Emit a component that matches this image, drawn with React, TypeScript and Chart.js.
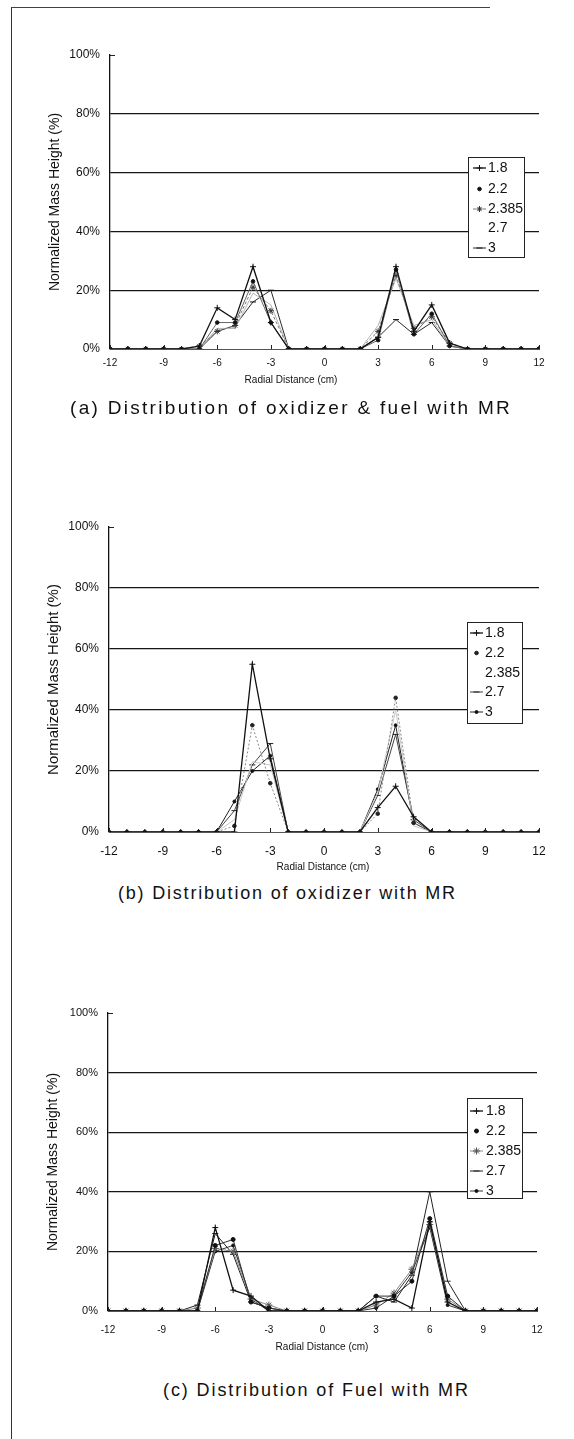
import React, { useEffect, useRef } from 'react';
import { Chart, registerables } from 'chart.js';
import { drawPoint } from 'chart.js/helpers';

Chart.register(...registerables);

const FONT = "'Liberation Sans', Arial, Helvetica, sans-serif";
Chart.defaults.font.family = FONT;
Chart.defaults.color = '#111';

// radial measuring stations (cm)
const RADIAL_CM = [-12, -11, -10, -9, -8, -7, -6, -5, -4, -3, -2, -1, 0, 1, 2, 3, 4, 5, 6, 7, 8, 9, 10, 11, 12];
const MR_LABELS = ['1.8', '2.2', '2.385', '2.7', '3'];
const X_TICKS = [-12, -9, -6, -3, 0, 3, 6, 9, 12];
const Y_TICKS = [0, 20, 40, 60, 80, 100];
const X_TITLE = 'Radial Distance (cm)';
const Y_TITLE = 'Normalized Mass Height (%)';

// (a) oxidizer & fuel, normalized mass height (%)
const MIX_MR18 = [0, 0, 0, 0, 0, 1, 14, 10, 28, 9, 0, 0, 0, 0, 0, 4, 28, 6, 15, 2, 0, 0, 0, 0, 0];
const MIX_MR22 = [0, 0, 0, 0, 0, 0, 9, 9, 23, 9, 0, 0, 0, 0, 0, 3, 27, 5, 12, 1, 0, 0, 0, 0, 0];
const MIX_MR2385 = [0, 0, 0, 0, 0, 1, 6, 8, 21, 13, 0, 0, 0, 0, 0, 6, 25, 7, 11, 2, 0, 0, 0, 0, 0];
const MIX_MR27 = [0, 0, 0, 0, 0, 0, 7, 7, 19, 15, 0, 0, 0, 0, 0, 8, 24, 8, 10, 1, 0, 0, 0, 0, 0];
const MIX_MR3 = [0, 0, 0, 0, 0, 0, 6, 8, 16, 20, 0, 0, 0, 0, 0, 4, 10, 5, 9, 1, 0, 0, 0, 0, 0];

// (b) oxidizer only
const OX_MR18 = [0, 0, 0, 0, 0, 0, 0, 0, 55, 24, 0, 0, 0, 0, 0, 8, 15, 5, 0, 0, 0, 0, 0, 0, 0];
const OX_MR22 = [0, 0, 0, 0, 0, 0, 0, 2, 35, 16, 0, 0, 0, 0, 0, 6, 44, 3, 0, 0, 0, 0, 0, 0, 0];
const OX_MR2385 = [0, 0, 0, 0, 0, 0, 0, 4, 23, 22, 0, 0, 0, 0, 0, 13, 40, 2, 0, 0, 0, 0, 0, 0, 0];
const OX_MR27 = [0, 0, 0, 0, 0, 0, 0, 7, 22, 29, 0, 0, 0, 0, 0, 12, 32, 4, 0, 0, 0, 0, 0, 0, 0];
const OX_MR3 = [0, 0, 0, 0, 0, 0, 0, 10, 20, 25, 0, 0, 0, 0, 0, 14, 35, 3, 0, 0, 0, 0, 0, 0, 0];

// (c) fuel only
const FUEL_MR18 = [0, 0, 0, 0, 0, 0, 28, 7, 5, 0, 0, 0, 0, 0, 0, 3, 4, 1, 30, 3, 0, 0, 0, 0, 0];
const FUEL_MR22 = [0, 0, 0, 0, 0, 0, 22, 24, 3, 1, 0, 0, 0, 0, 0, 5, 5, 10, 31, 5, 0, 0, 0, 0, 0];
const FUEL_MR2385 = [0, 0, 0, 0, 0, 1, 21, 20, 4, 2, 0, 0, 0, 0, 0, 2, 6, 14, 29, 4, 0, 0, 0, 0, 0];
const FUEL_MR27 = [0, 0, 0, 0, 0, 2, 26, 19, 3, 1, 0, 0, 0, 0, 0, 5, 3, 12, 40, 10, 0, 0, 0, 0, 0];
const FUEL_MR3 = [0, 0, 0, 0, 0, 0, 20, 22, 4, 0, 0, 0, 0, 0, 0, 1, 5, 13, 28, 2, 0, 0, 0, 0, 0];

type SeriesStyle = {
  line: string;
  width: number;
  dash: number[];
  point: string | false;
  pointColor: string;
  pointFill: string;
  radius: number;
  legendLine: boolean;
};

const st = (
  line: string,
  width: number,
  dash: number[],
  point: string | false,
  pointColor: string,
  pointFill: string,
  radius: number,
  legendLine = true
): SeriesStyle => ({ line, width, dash, point, pointColor, pointFill, radius, legendLine });

const STYLES_A: SeriesStyle[] = [
  st('#111', 1.3, [], 'cross', '#111', '#111', 3),
  st('#666', 1, [], 'circle', '#111', '#111', 1.8, false),
  st('#777', 1, [3, 2], 'star', '#333', '#333', 3),
  st('#b4b4b4', 1, [], false, '#999', '#999', 0, false),
  st('#2a2a2a', 1, [], 'line', '#111', '#111', 3),
];
const STYLES_B: SeriesStyle[] = [
  st('#111', 1.3, [], 'cross', '#111', '#111', 3),
  st('#888', 1, [2, 2], 'circle', '#222', '#222', 1.8, false),
  st('#c8c8c8', 1, [], false, '#bbb', '#bbb', 0, false),
  st('#444', 1, [], 'line', '#222', '#222', 3),
  st('#222', 1, [], 'circle', '#111', '#111', 1.5),
];
const STYLES_C: SeriesStyle[] = [
  st('#111', 1.3, [], 'cross', '#111', '#111', 3),
  st('#333', 1, [], 'circle', '#111', '#111', 2, false),
  st('#888', 1, [], 'star', '#555', '#fff', 3.5),
  st('#222', 1, [], 'line', '#222', '#222', 3),
  st('#333', 1, [], 'circle', '#111', '#111', 1.5),
];

type PanelCfg = {
  top: number;
  height: number;
  plot: { left: number; right: number; top: number; bottom: number };
  series: number[][];
  styles: SeriesStyle[];
  legend: { left: number; top: number; right: number; bottom: number; rows: number[]; lineX0: number; lineX1: number; textX: number; size: number };
  yTitleSize: number;
  yTitleX: number;
  yTickSize: number;
  xTickSize: number;
  xTickY: number;
  xTitleX: number;
  xTitleY: number;
  xTitleSize: number;
};

const PANELS: PanelCfg[] = [
  {
    top: 20,
    height: 380,
    plot: { left: 110, right: 539, top: 55, bottom: 349 },
    series: [MIX_MR18, MIX_MR22, MIX_MR2385, MIX_MR27, MIX_MR3],
    styles: STYLES_A,
    legend: { left: 468, top: 157, right: 524, bottom: 257, rows: [168, 189, 209, 228, 248], lineX0: 473, lineX1: 486, textX: 488, size: 14 },
    yTitleSize: 14,
    yTitleX: 55.5,
    yTickSize: 12,
    xTickSize: 10,
    xTickY: 363,
    xTitleX: 291,
    xTitleY: 380,
    xTitleSize: 10,
  },
  {
    top: 490,
    height: 390,
    plot: { left: 109, right: 539, top: 527, bottom: 832 },
    series: [OX_MR18, OX_MR22, OX_MR2385, OX_MR27, OX_MR3],
    styles: STYLES_B,
    legend: { left: 467, top: 622, right: 522, bottom: 723, rows: [633, 653, 673, 692, 712], lineX0: 470, lineX1: 483, textX: 485, size: 14 },
    yTitleSize: 15,
    yTitleX: 54,
    yTickSize: 12,
    xTickSize: 12,
    xTickY: 852,
    xTitleX: 323,
    xTitleY: 867,
    xTitleSize: 10,
  },
  {
    top: 980,
    height: 380,
    plot: { left: 108, right: 537, top: 1013, bottom: 1311 },
    series: [FUEL_MR18, FUEL_MR22, FUEL_MR2385, FUEL_MR27, FUEL_MR3],
    styles: STYLES_C,
    legend: { left: 467, top: 1098, right: 522, bottom: 1198, rows: [1111, 1131, 1151, 1171, 1191], lineX0: 470, lineX1: 483, textX: 486, size: 14 },
    yTitleSize: 14,
    yTitleX: 53,
    yTickSize: 11,
    xTickSize: 10,
    xTickY: 1330,
    xTitleX: 322,
    xTitleY: 1347,
    xTitleSize: 10,
  },
];

// Boxed series key inside the plot, inward x tick marks, top stub and x-axis caption.
const mrLegendPlugin = {
  id: 'mrLegend',
  afterDatasetsDraw(chart: any, _args: any, opts: any) {
    const { ctx } = chart;
    const lg = opts.box;
    const styles: SeriesStyle[] = opts.styles;
    if (!lg) return;

    const xs = chart.scales.x;
    const area = chart.chartArea;
    ctx.save();
    ctx.strokeStyle = '#222';
    ctx.lineWidth = 1;
    X_TICKS.forEach((v) => {
      const px = Math.round(xs.getPixelForValue(v)) + 0.5;
      ctx.beginPath();
      ctx.moveTo(px, area.bottom);
      ctx.lineTo(px, area.bottom - 4);
      ctx.stroke();
    });
    // short stub at the 100% level
    ctx.beginPath();
    ctx.moveTo(area.left, area.top + 0.5);
    ctx.lineTo(area.left + 5, area.top + 0.5);
    ctx.stroke();

    // x-axis caption
    ctx.fillStyle = '#111';
    ctx.font = `${opts.xTitle.size}px ${FONT}`;
    ctx.textAlign = 'center';
    ctx.textBaseline = 'middle';
    ctx.fillText(X_TITLE, opts.xTitle.x, opts.xTitle.y);

    // key box
    ctx.fillStyle = '#fff';
    ctx.fillRect(lg.left, lg.top, lg.right - lg.left, lg.bottom - lg.top);
    ctx.strokeStyle = '#222';
    ctx.lineWidth = 1;
    ctx.strokeRect(lg.left + 0.5, lg.top + 0.5, lg.right - lg.left, lg.bottom - lg.top);

    chart.data.datasets.forEach((ds: any, i: number) => {
      const s = styles[i];
      const y = lg.rows[i];
      const mid = (lg.lineX0 + lg.lineX1) / 2;
      if (s.legendLine) {
        ctx.setLineDash(s.dash);
        ctx.strokeStyle = s.line;
        ctx.lineWidth = s.width;
        ctx.beginPath();
        ctx.moveTo(lg.lineX0, y);
        ctx.lineTo(lg.lineX1, y);
        ctx.stroke();
      }
      ctx.setLineDash([]);
      if (s.point) {
        ctx.strokeStyle = s.pointColor;
        ctx.fillStyle = s.pointFill;
        ctx.lineWidth = 1;
        drawPoint(ctx, { pointStyle: s.point as any, radius: s.radius, rotation: 0, borderWidth: 1 }, mid, y);
      }
      ctx.fillStyle = '#111';
      ctx.font = `${lg.size}px ${FONT}`;
      ctx.textAlign = 'left';
      ctx.textBaseline = 'middle';
      ctx.fillText(ds.label, lg.textX, y + 0.5);
    });
    ctx.restore();
  },
};

function DistributionPanel({ cfg }: { cfg: PanelCfg }) {
  const ref = useRef<HTMLCanvasElement | null>(null);

  useEffect(() => {
    const canvas = ref.current;
    if (!canvas) return;
    const padLeft = 20;
    const canvasBottom = cfg.top + cfg.height;
    const yAxisWidth = cfg.plot.left - padLeft;
    const xAxisHeight = canvasBottom - cfg.plot.bottom;

    const xTickLine = cfg.xTickSize * 1.2;
    const xTickPad = cfg.xTickY - cfg.plot.bottom - xTickLine / 2;
    const yTitleLine = cfg.yTitleSize * 1.2;
    const yTitlePadTop = cfg.yTitleX - padLeft - yTitleLine / 2;

    const datasets = cfg.series.map((values, i) => {
      const s = cfg.styles[i];
      return {
        label: MR_LABELS[i],
        data: RADIAL_CM.map((x, k) => ({ x, y: values[k] })),
        borderColor: s.line,
        borderWidth: s.width,
        borderDash: s.dash,
        pointStyle: s.point === false ? 'circle' : (s.point as any),
        pointRadius: s.point === false ? 0 : s.radius,
        pointBorderColor: s.pointColor,
        pointBackgroundColor: s.pointFill,
        pointBorderWidth: 1,
        tension: 0,
        fill: false,
      };
    });

    const chart = new Chart(canvas, {
      type: 'line',
      data: { datasets },
      plugins: [mrLegendPlugin],
      options: {
        animation: false,
        responsive: false,
        maintainAspectRatio: false,
        devicePixelRatio: 1,
        layout: {
          padding: {
            left: padLeft,
            right: 574 - cfg.plot.right,
            top: cfg.plot.top - cfg.top,
            bottom: 0,
          },
        },
        plugins: {
          legend: { display: false },
          tooltip: { enabled: false },
          title: { display: false },
          mrLegend: {
            styles: cfg.styles,
            xTitle: { x: cfg.xTitleX, y: cfg.xTitleY - cfg.top, size: cfg.xTitleSize },
            box: {
              left: cfg.legend.left,
              right: cfg.legend.right,
              top: cfg.legend.top - cfg.top,
              bottom: cfg.legend.bottom - cfg.top,
              rows: cfg.legend.rows.map((r) => r - cfg.top),
              lineX0: cfg.legend.lineX0,
              lineX1: cfg.legend.lineX1,
              textX: cfg.legend.textX,
              size: cfg.legend.size,
            },
          },
        } as any,
        scales: {
          x: {
            type: 'linear',
            min: -12,
            max: 12,
            afterBuildTicks: (scale: any) => {
              scale.ticks = X_TICKS.map((v) => ({ value: v }));
            },
            afterFit: (scale: any) => {
              scale.height = xAxisHeight;
            },
            grid: { display: false, drawTicks: false },
            border: { display: true, color: '#555', width: 1 },
            ticks: {
              padding: xTickPad,
              color: '#111',
              font: { size: cfg.xTickSize, family: FONT },
              maxRotation: 0,
              autoSkip: false,
            },
            title: { display: false },
          },
          y: {
            type: 'linear',
            min: 0,
            max: 100,
            afterBuildTicks: (scale: any) => {
              scale.ticks = Y_TICKS.map((v) => ({ value: v }));
            },
            afterFit: (scale: any) => {
              scale.width = yAxisWidth;
            },
            grid: {
              drawTicks: false,
              color: (c: any) => (c.tick && c.tick.value > 0 && c.tick.value < 100 ? '#151515' : 'rgba(0,0,0,0)'),
              lineWidth: 1.2,
            },
            border: { display: true, color: '#111', width: 1.3 },
            ticks: {
              padding: 10,
              color: '#111',
              font: { size: cfg.yTickSize, family: FONT },
              callback: (v: any) => `${v}%`,
            },
            title: {
              display: true,
              text: Y_TITLE,
              color: '#111',
              font: { size: cfg.yTitleSize, family: FONT },
              padding: { top: yTitlePadTop, bottom: 0 },
            },
          },
        },
      },
    });
    return () => chart.destroy();
  }, [cfg]);

  return (
    <canvas
      ref={ref}
      width={574}
      height={cfg.height}
      style={{ position: 'absolute', left: 0, top: cfg.top, width: 574, height: cfg.height }}
    />
  );
}

const CAPTIONS = [
  { text: '(a) Distribution of oxidizer & fuel with MR', left: 70, top: 397, size: 19, spacing: 2.3 },
  { text: '(b) Distribution of oxidizer with MR', left: 118, top: 882, size: 18, spacing: 1.8 },
  { text: '(c) Distribution of Fuel with MR', left: 163, top: 1379, size: 18, spacing: 1.9 },
];

export default function App() {
  return (
    <div style={{ position: 'absolute', left: 0, top: 0, width: 574, height: 1439, background: '#fff', overflow: 'hidden' }}>
      <div
        style={{
          position: 'absolute',
          left: 11,
          top: 7,
          width: 478,
          height: 1440,
          borderLeft: '1.5px solid #333',
          borderTop: '1.5px solid #444',
        }}
      />
      {PANELS.map((p, i) => (
        <DistributionPanel key={i} cfg={p} />
      ))}
      {CAPTIONS.map((c, i) => (
        <div
          key={i}
          style={{
            position: 'absolute',
            left: c.left,
            top: c.top,
            fontFamily: FONT,
            fontSize: c.size,
            lineHeight: '22px',
            letterSpacing: c.spacing,
            whiteSpace: 'nowrap',
            color: '#111',
          }}
        >
          {c.text}
        </div>
      ))}
    </div>
  );
}
